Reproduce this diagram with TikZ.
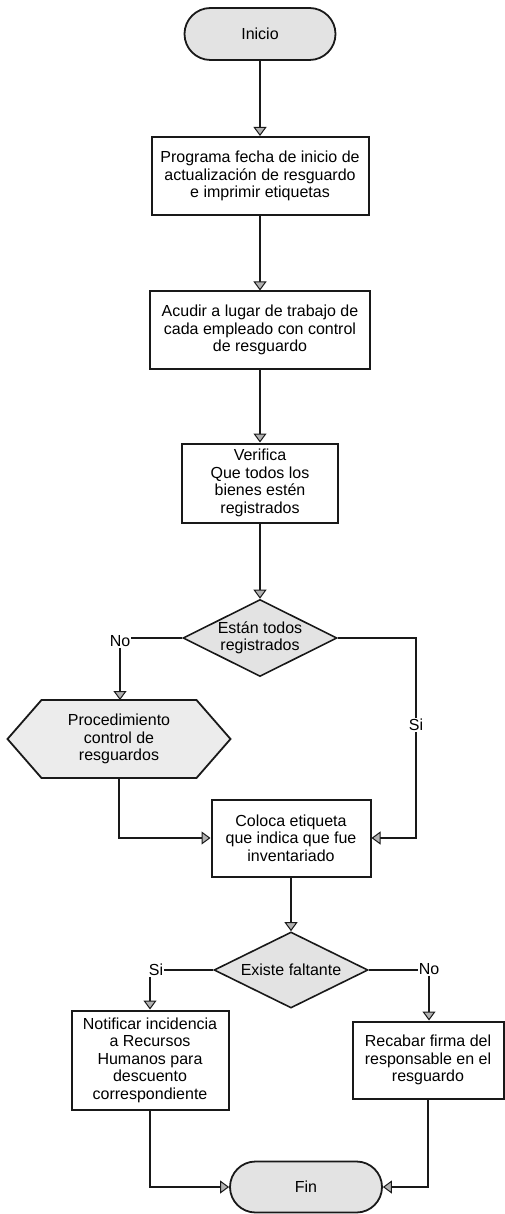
\documentclass[tikz,border=0pt]{standalone}
\usepackage{fontspec}
\setmainfont{Liberation Sans}
\usepackage{tikz}
\usetikzlibrary{shapes.geometric,shapes.misc,arrows.meta,backgrounds,positioning}
\tikzset{
terminal/.style={rounded rectangle,draw=black!90,line width=1.8pt,fill=gray!22,minimum width=155pt,minimum height=52pt,inner sep=2pt},
proceso/.style={rectangle,draw=black!90,line width=2pt,fill=white,align=center,inner sep=3pt},
decision/.style={diamond,aspect=2,draw=black!90,line width=1.6pt,fill=gray!22,align=center,inner sep=0pt,minimum width=154pt,minimum height=77pt},
predef/.style={rectangle,align=center,outer sep=0pt,minimum width=155pt,minimum height=78pt},
hexa/.style={draw=black!90,line width=1.8pt,fill=gray!15},
etiq/.style={inner sep=1pt},
linea/.style={draw=black!90,line width=2pt},
flecha/.style={linea,-{Triangle[length=9pt,width=13pt,fill=gray!60,line width=1pt]}}
}
\begin{document}
\begin{tikzpicture}[x=1pt,y=-1pt,every node/.style={font=\fontsize{16}{17.5}\selectfont,text=black}]
\useasboundingbox (0,0) rectangle (504,1214);
\node[terminal] (ini) at (260,34) {Inicio};
\node[proceso,minimum width=217pt,minimum height=78pt] (prog) at (260,176) {Programa fecha de inicio de\\actualización de resguardo\\e imprimir etiquetas};
\node[proceso,minimum width=220pt,minimum height=77pt] (acudir) at (260,330) {Acudir a lugar de trabajo de\\cada empleado con control\\de resguardo};
\node[proceso,minimum width=156pt,minimum height=79pt] (verif) at (260,483) {Verifica\\Que todos los\\bienes estén\\registrados};
\node[decision] (estan) at (260,638) {Están todos\\registrados};
\node[predef] (proced) at (119,739) {Procedimiento\\control de\\resguardos};
\begin{scope}[on background layer]
\draw[hexa] (proced.north west) -- (proced.north east) -- ([xshift=34pt]proced.east) -- (proced.south east) -- (proced.south west) -- ([xshift=-34pt]proced.west) -- cycle;
\end{scope}
\node[proceso,minimum width=159pt,minimum height=77pt] (coloca) at (291,838) {Coloca etiqueta\\que indica que fue\\inventariado};
\node[decision,minimum height=76pt] (existe) at (291,970) {Existe faltante};
\node[proceso,minimum width=157pt,minimum height=99pt] (notif) at (150,1060) {Notificar incidencia\\a Recursos\\Humanos para\\descuento\\correspondiente};
\node[proceso,minimum width=151pt,minimum height=77pt] (recabar) at (428,1060) {Recabar firma del\\responsable en el\\resguardo};
\node[terminal,minimum width=156pt,minimum height=51pt] (fin) at (306,1187) {Fin};
\node[etiq] (no1) at (120,641) {No};
\node[etiq] (si1) at (416,725) {Si};
\node[etiq] (si2) at (156,970) {Si};
\node[etiq] (no2) at (429,969) {No};
\draw[flecha] (ini) -- (prog);
\draw[flecha] (prog) -- (acudir);
\draw[flecha] (acudir) -- (verif);
\draw[flecha] (verif) -- (estan);
\draw[linea] (estan.west) -- (estan.west -| no1.east);
\draw[flecha] (no1.south) -- (no1.south |- proced.north);
\draw[linea] (estan.east) -| (si1.north);
\draw[flecha] (si1.south) |- (coloca.east);
\draw[flecha] (proced.south) |- (coloca.west);
\draw[flecha] (coloca) -- (existe);
\draw[linea] (existe.west) -- (existe.west -| si2.east);
\draw[flecha] (si2.south -| notif.north) -- (notif.north);
\draw[linea] (existe.east) -- (existe.east -| no2.west);
\draw[flecha] (no2.south) -- (no2.south |- recabar.north);
\draw[flecha] (notif.south) |- (fin.west);
\draw[flecha] (recabar.south) |- (fin.east);
\end{tikzpicture}
\end{document}
